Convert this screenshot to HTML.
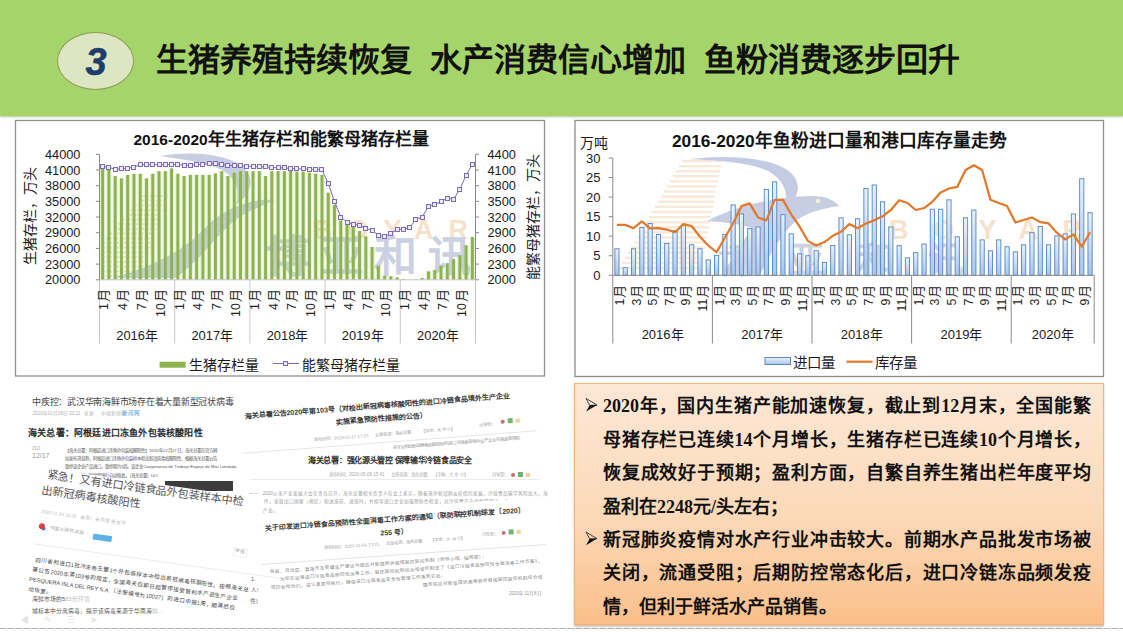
<!DOCTYPE html>
<html lang="zh-CN"><head><meta charset="utf-8"><style>
html,body{margin:0;padding:0;}
body{width:1123px;height:632px;position:relative;overflow:hidden;background:#fff;font-family:'Liberation Sans',sans-serif;}
.hdr{position:absolute;left:0;top:0;width:1123px;height:116px;background:#a4d46a;box-shadow:0 1px 2px rgba(110,160,70,0.55);}
.oval{position:absolute;left:57px;top:32px;width:75px;height:56px;border-radius:50%;background:#dde6c2;border:1px solid #8e9c54;}
.num{position:absolute;left:85.5px;top:40.5px;font-size:38px;font-weight:bold;font-style:italic;color:#1f3d6b;-webkit-text-stroke:0.5px #1f3d6b;}
.title{position:absolute;left:156px;top:44px;font-size:32px;font-weight:bold;color:#111;white-space:pre;line-height:1;}
svg{position:absolute;left:0;top:0;}
svg text{font-family:'Liberation Sans',sans-serif;}
.obox{position:absolute;left:574px;top:382.5px;width:528px;height:240px;border:1px solid #f2b27a;background:linear-gradient(#fde8d6,#fcd9b8 55%,#fbbf8a);box-shadow:0 2px 2px rgba(120,80,40,0.35);}
.ln{position:absolute;left:28px;width:488px;height:34px;font-family:'Liberation Serif',serif;font-weight:bold;font-size:18px;color:#111;white-space:nowrap;line-height:34px;text-align:justify;text-align-last:justify;}
.bul{position:absolute;left:11px;font-size:15px;color:#111;line-height:34px;}
.dash{position:absolute;left:0;top:628px;width:1123px;height:1px;background:repeating-linear-gradient(90deg,#b4b4b4 0,#b4b4b4 6px,#e2e2e2 6px,#e2e2e2 8px);}
</style></head><body>
<div class="hdr"></div>
<div class="oval"></div>
<div class="num">3</div>
<div class="title">生猪养殖持续恢复  水产消费信心增加  鱼粉消费逐步回升</div>
<svg width="1123" height="632" viewBox="0 0 1123 632">
<defs><linearGradient id="bg" x1="0" y1="0" x2="0" y2="1"><stop offset="0" stop-color="#e9f1fb"/><stop offset="1" stop-color="#a9c6ec"/></linearGradient></defs>
<rect x="15.5" y="120.5" width="529" height="255.5" fill="#fff" stroke="#8f8f8f" stroke-width="1.3"/>
<g opacity="0.9">
<line x1="143" y1="196" x2="168" y2="196" stroke="#f4dfc6" stroke-width="2.2" stroke-dasharray="2 1.5"/>
<line x1="138.9" y1="200.7" x2="166.4" y2="200.7" stroke="#f4dfc6" stroke-width="2.2" stroke-dasharray="2 1.5"/>
<line x1="134.8" y1="205.4" x2="164.8" y2="205.4" stroke="#f4dfc6" stroke-width="2.2" stroke-dasharray="2 1.5"/>
<line x1="130.7" y1="210.1" x2="163.2" y2="210.1" stroke="#f4dfc6" stroke-width="2.2" stroke-dasharray="2 1.5"/>
<line x1="126.6" y1="214.8" x2="161.6" y2="214.8" stroke="#f4dfc6" stroke-width="2.2" stroke-dasharray="2 1.5"/>
<line x1="122.5" y1="219.5" x2="160" y2="219.5" stroke="#f4dfc6" stroke-width="2.2" stroke-dasharray="2 1.5"/>
<line x1="118.4" y1="224.2" x2="158.4" y2="224.2" stroke="#f4dfc6" stroke-width="2.2" stroke-dasharray="2 1.5"/>
<line x1="114.3" y1="228.9" x2="156.8" y2="228.9" stroke="#f4dfc6" stroke-width="2.2" stroke-dasharray="2 1.5"/>
<line x1="110.2" y1="233.6" x2="155.2" y2="233.6" stroke="#f4dfc6" stroke-width="2.2" stroke-dasharray="2 1.5"/>
<line x1="106.1" y1="238.3" x2="153.6" y2="238.3" stroke="#f4dfc6" stroke-width="2.2" stroke-dasharray="2 1.5"/>
<line x1="103" y1="243" x2="152" y2="243" stroke="#f4dfc6" stroke-width="2.2" stroke-dasharray="2 1.5"/>
<line x1="103" y1="247.7" x2="150.4" y2="247.7" stroke="#f4dfc6" stroke-width="2.2" stroke-dasharray="2 1.5"/>
<line x1="103" y1="252.4" x2="148.8" y2="252.4" stroke="#f4dfc6" stroke-width="2.2" stroke-dasharray="2 1.5"/>
<line x1="103" y1="257.1" x2="147.2" y2="257.1" stroke="#f4dfc6" stroke-width="2.2" stroke-dasharray="2 1.5"/>
<line x1="103" y1="261.8" x2="145.6" y2="261.8" stroke="#f4dfc6" stroke-width="2.2" stroke-dasharray="2 1.5"/>
<line x1="103" y1="266.5" x2="144" y2="266.5" stroke="#f4dfc6" stroke-width="2.2" stroke-dasharray="2 1.5"/>
<line x1="103" y1="271.2" x2="142.4" y2="271.2" stroke="#f4dfc6" stroke-width="2.2" stroke-dasharray="2 1.5"/>
<line x1="103" y1="275.9" x2="140.8" y2="275.9" stroke="#f4dfc6" stroke-width="2.2" stroke-dasharray="2 1.5"/>
<path d="M160,156 C195,150 230,155 244,168 C256,180 250,195 236,205 C240,190 236,178 222,170 C205,162 185,160 160,156 Z" fill="#c3c9de"/>
<path d="M112,278 C150,268 185,250 205,228 C220,212 245,198 275,200 C262,206 250,210 238,218 C215,235 200,262 175,278 Z" fill="#c3c9de"/>
<text x="313" y="238.5" font-size="27" font-weight="bold" fill="#f6dfc6" letter-spacing="15">BOYAR</text>
<text x="266" y="272" font-size="43" font-weight="bold" fill="#c6cce0" letter-spacing="11">博亚和讯</text>
</g>
<rect x="99.93" y="168.42" width="5.4" height="111.38" fill="#9fcf6a" fill-opacity="0.28"/>
<rect x="101.18" y="168.42" width="2.9" height="111.38" fill="#8db24e"/>
<rect x="106.2" y="169.46" width="5.4" height="110.34" fill="#9fcf6a" fill-opacity="0.28"/>
<rect x="107.45" y="169.46" width="2.9" height="110.34" fill="#8db24e"/>
<rect x="112.47" y="176" width="5.4" height="103.8" fill="#9fcf6a" fill-opacity="0.28"/>
<rect x="113.72" y="176" width="2.9" height="103.8" fill="#8db24e"/>
<rect x="118.73" y="178.35" width="5.4" height="101.45" fill="#9fcf6a" fill-opacity="0.28"/>
<rect x="119.98" y="178.35" width="2.9" height="101.45" fill="#8db24e"/>
<rect x="125" y="174.9" width="5.4" height="104.9" fill="#9fcf6a" fill-opacity="0.28"/>
<rect x="126.25" y="174.9" width="2.9" height="104.9" fill="#8db24e"/>
<rect x="131.27" y="173.8" width="5.4" height="106" fill="#9fcf6a" fill-opacity="0.28"/>
<rect x="132.52" y="173.8" width="2.9" height="106" fill="#8db24e"/>
<rect x="137.53" y="173.8" width="5.4" height="106" fill="#9fcf6a" fill-opacity="0.28"/>
<rect x="138.78" y="173.8" width="2.9" height="106" fill="#8db24e"/>
<rect x="143.8" y="178.35" width="5.4" height="101.45" fill="#9fcf6a" fill-opacity="0.28"/>
<rect x="145.05" y="178.35" width="2.9" height="101.45" fill="#8db24e"/>
<rect x="150.07" y="173.8" width="5.4" height="106" fill="#9fcf6a" fill-opacity="0.28"/>
<rect x="151.32" y="173.8" width="2.9" height="106" fill="#8db24e"/>
<rect x="156.33" y="171.19" width="5.4" height="108.61" fill="#9fcf6a" fill-opacity="0.28"/>
<rect x="157.58" y="171.19" width="2.9" height="108.61" fill="#8db24e"/>
<rect x="162.6" y="171.19" width="5.4" height="108.61" fill="#9fcf6a" fill-opacity="0.28"/>
<rect x="163.85" y="171.19" width="2.9" height="108.61" fill="#8db24e"/>
<rect x="168.87" y="168.42" width="5.4" height="111.38" fill="#9fcf6a" fill-opacity="0.28"/>
<rect x="170.12" y="168.42" width="2.9" height="111.38" fill="#8db24e"/>
<rect x="175.13" y="173.8" width="5.4" height="106" fill="#9fcf6a" fill-opacity="0.28"/>
<rect x="176.38" y="173.8" width="2.9" height="106" fill="#8db24e"/>
<rect x="181.4" y="176" width="5.4" height="103.8" fill="#9fcf6a" fill-opacity="0.28"/>
<rect x="182.65" y="176" width="2.9" height="103.8" fill="#8db24e"/>
<rect x="187.67" y="174.9" width="5.4" height="104.9" fill="#9fcf6a" fill-opacity="0.28"/>
<rect x="188.92" y="174.9" width="2.9" height="104.9" fill="#8db24e"/>
<rect x="193.93" y="174.9" width="5.4" height="104.9" fill="#9fcf6a" fill-opacity="0.28"/>
<rect x="195.18" y="174.9" width="2.9" height="104.9" fill="#8db24e"/>
<rect x="200.2" y="174.9" width="5.4" height="104.9" fill="#9fcf6a" fill-opacity="0.28"/>
<rect x="201.45" y="174.9" width="2.9" height="104.9" fill="#8db24e"/>
<rect x="206.47" y="174.9" width="5.4" height="104.9" fill="#9fcf6a" fill-opacity="0.28"/>
<rect x="207.72" y="174.9" width="2.9" height="104.9" fill="#8db24e"/>
<rect x="212.73" y="173.39" width="5.4" height="106.41" fill="#9fcf6a" fill-opacity="0.28"/>
<rect x="213.98" y="173.39" width="2.9" height="106.41" fill="#8db24e"/>
<rect x="219" y="171.19" width="5.4" height="108.61" fill="#9fcf6a" fill-opacity="0.28"/>
<rect x="220.25" y="171.19" width="2.9" height="108.61" fill="#8db24e"/>
<rect x="225.27" y="176" width="5.4" height="103.8" fill="#9fcf6a" fill-opacity="0.28"/>
<rect x="226.52" y="176" width="2.9" height="103.8" fill="#8db24e"/>
<rect x="231.53" y="172.71" width="5.4" height="107.09" fill="#9fcf6a" fill-opacity="0.28"/>
<rect x="232.78" y="172.71" width="2.9" height="107.09" fill="#8db24e"/>
<rect x="237.8" y="171.19" width="5.4" height="108.61" fill="#9fcf6a" fill-opacity="0.28"/>
<rect x="239.05" y="171.19" width="2.9" height="108.61" fill="#8db24e"/>
<rect x="244.07" y="171.19" width="5.4" height="108.61" fill="#9fcf6a" fill-opacity="0.28"/>
<rect x="245.32" y="171.19" width="2.9" height="108.61" fill="#8db24e"/>
<rect x="250.33" y="171.19" width="5.4" height="108.61" fill="#9fcf6a" fill-opacity="0.28"/>
<rect x="251.58" y="171.19" width="2.9" height="108.61" fill="#8db24e"/>
<rect x="256.6" y="171.19" width="5.4" height="108.61" fill="#9fcf6a" fill-opacity="0.28"/>
<rect x="257.85" y="171.19" width="2.9" height="108.61" fill="#8db24e"/>
<rect x="262.87" y="176" width="5.4" height="103.8" fill="#9fcf6a" fill-opacity="0.28"/>
<rect x="264.12" y="176" width="2.9" height="103.8" fill="#8db24e"/>
<rect x="269.13" y="171.19" width="5.4" height="108.61" fill="#9fcf6a" fill-opacity="0.28"/>
<rect x="270.38" y="171.19" width="2.9" height="108.61" fill="#8db24e"/>
<rect x="275.4" y="171.19" width="5.4" height="108.61" fill="#9fcf6a" fill-opacity="0.28"/>
<rect x="276.65" y="171.19" width="2.9" height="108.61" fill="#8db24e"/>
<rect x="281.67" y="171.19" width="5.4" height="108.61" fill="#9fcf6a" fill-opacity="0.28"/>
<rect x="282.92" y="171.19" width="2.9" height="108.61" fill="#8db24e"/>
<rect x="287.93" y="170.51" width="5.4" height="109.29" fill="#9fcf6a" fill-opacity="0.28"/>
<rect x="289.18" y="170.51" width="2.9" height="109.29" fill="#8db24e"/>
<rect x="294.2" y="171.61" width="5.4" height="108.19" fill="#9fcf6a" fill-opacity="0.28"/>
<rect x="295.45" y="171.61" width="2.9" height="108.19" fill="#8db24e"/>
<rect x="300.47" y="171.61" width="5.4" height="108.19" fill="#9fcf6a" fill-opacity="0.28"/>
<rect x="301.72" y="171.61" width="2.9" height="108.19" fill="#8db24e"/>
<rect x="306.73" y="172.71" width="5.4" height="107.09" fill="#9fcf6a" fill-opacity="0.28"/>
<rect x="307.98" y="172.71" width="2.9" height="107.09" fill="#8db24e"/>
<rect x="313" y="173.8" width="5.4" height="106" fill="#9fcf6a" fill-opacity="0.28"/>
<rect x="314.25" y="173.8" width="2.9" height="106" fill="#8db24e"/>
<rect x="319.27" y="174.9" width="5.4" height="104.9" fill="#9fcf6a" fill-opacity="0.28"/>
<rect x="320.52" y="174.9" width="2.9" height="104.9" fill="#8db24e"/>
<rect x="325.53" y="192.68" width="5.4" height="87.12" fill="#9fcf6a" fill-opacity="0.28"/>
<rect x="326.78" y="192.68" width="2.9" height="87.12" fill="#8db24e"/>
<rect x="331.8" y="204.87" width="5.4" height="74.93" fill="#9fcf6a" fill-opacity="0.28"/>
<rect x="333.05" y="204.87" width="2.9" height="74.93" fill="#8db24e"/>
<rect x="338.07" y="220.4" width="5.4" height="59.4" fill="#9fcf6a" fill-opacity="0.28"/>
<rect x="339.32" y="220.4" width="2.9" height="59.4" fill="#8db24e"/>
<rect x="344.33" y="224.79" width="5.4" height="55.01" fill="#9fcf6a" fill-opacity="0.28"/>
<rect x="345.58" y="224.79" width="2.9" height="55.01" fill="#8db24e"/>
<rect x="350.6" y="226.99" width="5.4" height="52.81" fill="#9fcf6a" fill-opacity="0.28"/>
<rect x="351.85" y="226.99" width="2.9" height="52.81" fill="#8db24e"/>
<rect x="356.87" y="231.01" width="5.4" height="48.79" fill="#9fcf6a" fill-opacity="0.28"/>
<rect x="358.12" y="231.01" width="2.9" height="48.79" fill="#8db24e"/>
<rect x="363.13" y="236.4" width="5.4" height="43.4" fill="#9fcf6a" fill-opacity="0.28"/>
<rect x="364.38" y="236.4" width="2.9" height="43.4" fill="#8db24e"/>
<rect x="369.4" y="247.01" width="5.4" height="32.79" fill="#9fcf6a" fill-opacity="0.28"/>
<rect x="370.65" y="247.01" width="2.9" height="32.79" fill="#8db24e"/>
<rect x="375.67" y="265.79" width="5.4" height="14.01" fill="#9fcf6a" fill-opacity="0.28"/>
<rect x="376.92" y="265.79" width="2.9" height="14.01" fill="#8db24e"/>
<rect x="381.93" y="275.77" width="5.4" height="4.03" fill="#9fcf6a" fill-opacity="0.28"/>
<rect x="383.18" y="275.77" width="2.9" height="4.03" fill="#8db24e"/>
<rect x="388.2" y="276.3" width="5.4" height="3.5" fill="#9fcf6a" fill-opacity="0.28"/>
<rect x="389.45" y="276.3" width="2.9" height="3.5" fill="#8db24e"/>
<rect x="394.47" y="277.39" width="5.4" height="2.41" fill="#9fcf6a" fill-opacity="0.28"/>
<rect x="395.72" y="277.39" width="2.9" height="2.41" fill="#8db24e"/>
<rect x="400.73" y="279.02" width="5.4" height="0.78" fill="#9fcf6a" fill-opacity="0.28"/>
<rect x="401.98" y="279.02" width="2.9" height="0.78" fill="#8db24e"/>
<rect x="413.27" y="279.28" width="5.4" height="0.52" fill="#9fcf6a" fill-opacity="0.28"/>
<rect x="414.52" y="279.28" width="2.9" height="0.52" fill="#8db24e"/>
<rect x="419.53" y="278.02" width="5.4" height="1.78" fill="#9fcf6a" fill-opacity="0.28"/>
<rect x="420.78" y="278.02" width="2.9" height="1.78" fill="#8db24e"/>
<rect x="425.8" y="271.43" width="5.4" height="8.37" fill="#9fcf6a" fill-opacity="0.28"/>
<rect x="427.05" y="271.43" width="2.9" height="8.37" fill="#8db24e"/>
<rect x="432.07" y="270.28" width="5.4" height="9.52" fill="#9fcf6a" fill-opacity="0.28"/>
<rect x="433.32" y="270.28" width="2.9" height="9.52" fill="#8db24e"/>
<rect x="438.33" y="265.79" width="5.4" height="14.01" fill="#9fcf6a" fill-opacity="0.28"/>
<rect x="439.58" y="265.79" width="2.9" height="14.01" fill="#8db24e"/>
<rect x="444.6" y="263.17" width="5.4" height="16.63" fill="#9fcf6a" fill-opacity="0.28"/>
<rect x="445.85" y="263.17" width="2.9" height="16.63" fill="#8db24e"/>
<rect x="450.87" y="259.2" width="5.4" height="20.6" fill="#9fcf6a" fill-opacity="0.28"/>
<rect x="452.12" y="259.2" width="2.9" height="20.6" fill="#8db24e"/>
<rect x="457.13" y="255.22" width="5.4" height="24.58" fill="#9fcf6a" fill-opacity="0.28"/>
<rect x="458.38" y="255.22" width="2.9" height="24.58" fill="#8db24e"/>
<rect x="463.4" y="245.18" width="5.4" height="34.62" fill="#9fcf6a" fill-opacity="0.28"/>
<rect x="464.65" y="245.18" width="2.9" height="34.62" fill="#8db24e"/>
<rect x="469.67" y="237.03" width="5.4" height="42.77" fill="#9fcf6a" fill-opacity="0.28"/>
<rect x="470.92" y="237.03" width="2.9" height="42.77" fill="#8db24e"/>
<line x1="99.5" y1="154.3" x2="99.5" y2="279.8" stroke="#8a8a8a" stroke-width="1"/>
<line x1="475.5" y1="154.3" x2="475.5" y2="279.8" stroke="#8a8a8a" stroke-width="1"/>
<line x1="96.0" y1="154.3" x2="99.5" y2="154.3" stroke="#8a8a8a" stroke-width="1"/>
<line x1="475.5" y1="154.3" x2="479.0" y2="154.3" stroke="#8a8a8a" stroke-width="1"/>
<text x="80.5" y="158.9" text-anchor="end" font-size="12.8" fill="#1a1a1a">44000</text>
<text x="487.5" y="158.9" text-anchor="start" font-size="12.8" fill="#1a1a1a">4400</text>
<line x1="96.0" y1="169.99" x2="99.5" y2="169.99" stroke="#8a8a8a" stroke-width="1"/>
<line x1="475.5" y1="169.99" x2="479.0" y2="169.99" stroke="#8a8a8a" stroke-width="1"/>
<text x="80.5" y="174.59" text-anchor="end" font-size="12.8" fill="#1a1a1a">41000</text>
<text x="487.5" y="174.59" text-anchor="start" font-size="12.8" fill="#1a1a1a">4100</text>
<line x1="96.0" y1="185.68" x2="99.5" y2="185.68" stroke="#8a8a8a" stroke-width="1"/>
<line x1="475.5" y1="185.68" x2="479.0" y2="185.68" stroke="#8a8a8a" stroke-width="1"/>
<text x="80.5" y="190.28" text-anchor="end" font-size="12.8" fill="#1a1a1a">38000</text>
<text x="487.5" y="190.28" text-anchor="start" font-size="12.8" fill="#1a1a1a">3800</text>
<line x1="96.0" y1="201.36" x2="99.5" y2="201.36" stroke="#8a8a8a" stroke-width="1"/>
<line x1="475.5" y1="201.36" x2="479.0" y2="201.36" stroke="#8a8a8a" stroke-width="1"/>
<text x="80.5" y="205.96" text-anchor="end" font-size="12.8" fill="#1a1a1a">35000</text>
<text x="487.5" y="205.96" text-anchor="start" font-size="12.8" fill="#1a1a1a">3500</text>
<line x1="96.0" y1="217.05" x2="99.5" y2="217.05" stroke="#8a8a8a" stroke-width="1"/>
<line x1="475.5" y1="217.05" x2="479.0" y2="217.05" stroke="#8a8a8a" stroke-width="1"/>
<text x="80.5" y="221.65" text-anchor="end" font-size="12.8" fill="#1a1a1a">32000</text>
<text x="487.5" y="221.65" text-anchor="start" font-size="12.8" fill="#1a1a1a">3200</text>
<line x1="96.0" y1="232.74" x2="99.5" y2="232.74" stroke="#8a8a8a" stroke-width="1"/>
<line x1="475.5" y1="232.74" x2="479.0" y2="232.74" stroke="#8a8a8a" stroke-width="1"/>
<text x="80.5" y="237.34" text-anchor="end" font-size="12.8" fill="#1a1a1a">29000</text>
<text x="487.5" y="237.34" text-anchor="start" font-size="12.8" fill="#1a1a1a">2900</text>
<line x1="96.0" y1="248.43" x2="99.5" y2="248.43" stroke="#8a8a8a" stroke-width="1"/>
<line x1="475.5" y1="248.43" x2="479.0" y2="248.43" stroke="#8a8a8a" stroke-width="1"/>
<text x="80.5" y="253.03" text-anchor="end" font-size="12.8" fill="#1a1a1a">26000</text>
<text x="487.5" y="253.03" text-anchor="start" font-size="12.8" fill="#1a1a1a">2600</text>
<line x1="96.0" y1="264.11" x2="99.5" y2="264.11" stroke="#8a8a8a" stroke-width="1"/>
<line x1="475.5" y1="264.11" x2="479.0" y2="264.11" stroke="#8a8a8a" stroke-width="1"/>
<text x="80.5" y="268.71" text-anchor="end" font-size="12.8" fill="#1a1a1a">23000</text>
<text x="487.5" y="268.71" text-anchor="start" font-size="12.8" fill="#1a1a1a">2300</text>
<line x1="96.0" y1="279.8" x2="99.5" y2="279.8" stroke="#8a8a8a" stroke-width="1"/>
<line x1="475.5" y1="279.8" x2="479.0" y2="279.8" stroke="#8a8a8a" stroke-width="1"/>
<text x="80.5" y="284.4" text-anchor="end" font-size="12.8" fill="#1a1a1a">20000</text>
<text x="487.5" y="284.4" text-anchor="start" font-size="12.8" fill="#1a1a1a">2000</text>
<line x1="99.5" y1="279.8" x2="475.5" y2="279.8" stroke="#c8c8c8" stroke-width="1"/>
<line x1="99.5" y1="279.8" x2="99.5" y2="343.5" stroke="#c8c8c8" stroke-width="1"/>
<line x1="174.7" y1="279.8" x2="174.7" y2="343.5" stroke="#c8c8c8" stroke-width="1"/>
<line x1="249.9" y1="279.8" x2="249.9" y2="343.5" stroke="#c8c8c8" stroke-width="1"/>
<line x1="325.1" y1="279.8" x2="325.1" y2="343.5" stroke="#c8c8c8" stroke-width="1"/>
<line x1="400.3" y1="279.8" x2="400.3" y2="343.5" stroke="#c8c8c8" stroke-width="1"/>
<line x1="475.5" y1="279.8" x2="475.5" y2="343.5" stroke="#c8c8c8" stroke-width="1"/>
<text transform="translate(108.43,289) rotate(-90)" text-anchor="end" font-size="12.3" fill="#222">1<tspan dx="1.2" font-size="13">月</tspan></text>
<text transform="translate(127.23,289) rotate(-90)" text-anchor="end" font-size="12.3" fill="#222">4<tspan dx="1.2" font-size="13">月</tspan></text>
<text transform="translate(146.03,289) rotate(-90)" text-anchor="end" font-size="12.3" fill="#222">7<tspan dx="1.2" font-size="13">月</tspan></text>
<text transform="translate(164.83,289) rotate(-90)" text-anchor="end" font-size="12.3" fill="#222">10<tspan dx="1.2" font-size="13">月</tspan></text>
<text x="137.1" y="339.5" text-anchor="middle" font-size="12.9" fill="#1a1a1a">2016年</text>
<text transform="translate(183.63,289) rotate(-90)" text-anchor="end" font-size="12.3" fill="#222">1<tspan dx="1.2" font-size="13">月</tspan></text>
<text transform="translate(202.43,289) rotate(-90)" text-anchor="end" font-size="12.3" fill="#222">4<tspan dx="1.2" font-size="13">月</tspan></text>
<text transform="translate(221.23,289) rotate(-90)" text-anchor="end" font-size="12.3" fill="#222">7<tspan dx="1.2" font-size="13">月</tspan></text>
<text transform="translate(240.03,289) rotate(-90)" text-anchor="end" font-size="12.3" fill="#222">10<tspan dx="1.2" font-size="13">月</tspan></text>
<text x="212.3" y="339.5" text-anchor="middle" font-size="12.9" fill="#1a1a1a">2017年</text>
<text transform="translate(258.83,289) rotate(-90)" text-anchor="end" font-size="12.3" fill="#222">1<tspan dx="1.2" font-size="13">月</tspan></text>
<text transform="translate(277.63,289) rotate(-90)" text-anchor="end" font-size="12.3" fill="#222">4<tspan dx="1.2" font-size="13">月</tspan></text>
<text transform="translate(296.43,289) rotate(-90)" text-anchor="end" font-size="12.3" fill="#222">7<tspan dx="1.2" font-size="13">月</tspan></text>
<text transform="translate(315.23,289) rotate(-90)" text-anchor="end" font-size="12.3" fill="#222">10<tspan dx="1.2" font-size="13">月</tspan></text>
<text x="287.5" y="339.5" text-anchor="middle" font-size="12.9" fill="#1a1a1a">2018年</text>
<text transform="translate(334.03,289) rotate(-90)" text-anchor="end" font-size="12.3" fill="#222">1<tspan dx="1.2" font-size="13">月</tspan></text>
<text transform="translate(352.83,289) rotate(-90)" text-anchor="end" font-size="12.3" fill="#222">4<tspan dx="1.2" font-size="13">月</tspan></text>
<text transform="translate(371.63,289) rotate(-90)" text-anchor="end" font-size="12.3" fill="#222">7<tspan dx="1.2" font-size="13">月</tspan></text>
<text transform="translate(390.43,289) rotate(-90)" text-anchor="end" font-size="12.3" fill="#222">10<tspan dx="1.2" font-size="13">月</tspan></text>
<text x="362.7" y="339.5" text-anchor="middle" font-size="12.9" fill="#1a1a1a">2019年</text>
<text transform="translate(409.23,289) rotate(-90)" text-anchor="end" font-size="12.3" fill="#222">1<tspan dx="1.2" font-size="13">月</tspan></text>
<text transform="translate(428.03,289) rotate(-90)" text-anchor="end" font-size="12.3" fill="#222">4<tspan dx="1.2" font-size="13">月</tspan></text>
<text transform="translate(446.83,289) rotate(-90)" text-anchor="end" font-size="12.3" fill="#222">7<tspan dx="1.2" font-size="13">月</tspan></text>
<text transform="translate(465.63,289) rotate(-90)" text-anchor="end" font-size="12.3" fill="#222">10<tspan dx="1.2" font-size="13">月</tspan></text>
<text x="437.9" y="339.5" text-anchor="middle" font-size="12.9" fill="#1a1a1a">2020年</text>
<polyline points="102.63,166.48 108.9,167.22 115.17,169.41 121.43,168.89 127.7,168.11 133.97,167.22 140.23,164.5 146.5,164.5 152.77,164.5 159.03,164.5 165.3,164.5 171.57,164.5 177.83,164.5 184.1,165.28 190.37,165.28 196.63,164.76 202.9,164.24 209.17,163.71 215.43,163.71 221.7,164.76 227.97,165.28 234.23,165.8 240.5,165.8 246.77,166.33 253.03,166.33 259.3,166.85 265.57,166.85 271.83,167.37 278.1,167.9 284.37,167.9 290.63,168.42 296.9,168.94 303.17,168.94 309.43,169.46 315.7,169.46 321.97,169.99 328.23,183.11 334.5,201.52 340.77,217.05 347.03,222.23 353.3,224.21 359.57,225.31 365.83,228.4 372.1,230.38 378.37,235.51 384.63,236.4 390.9,233.21 397.17,229.29 403.43,229.29 409.7,227.51 415.97,219.3 422.23,217.1 428.5,206.02 434.77,204.4 441.03,201.52 447.3,198.23 453.57,199.32 459.83,189.28 466.1,175.37 472.37,164.29" fill="none" stroke="#7a6db4" stroke-width="1"/>
<rect x="100.5" y="164.5" width="4" height="4" fill="#efeafa" stroke="#7b6bb8" stroke-width="1"/>
<rect x="106.5" y="165.5" width="4" height="4" fill="#efeafa" stroke="#7b6bb8" stroke-width="1"/>
<rect x="113.5" y="167.5" width="4" height="4" fill="#efeafa" stroke="#7b6bb8" stroke-width="1"/>
<rect x="119.5" y="166.5" width="4" height="4" fill="#efeafa" stroke="#7b6bb8" stroke-width="1"/>
<rect x="125.5" y="166.5" width="4" height="4" fill="#efeafa" stroke="#7b6bb8" stroke-width="1"/>
<rect x="131.5" y="165.5" width="4" height="4" fill="#efeafa" stroke="#7b6bb8" stroke-width="1"/>
<rect x="138.5" y="162.5" width="4" height="4" fill="#efeafa" stroke="#7b6bb8" stroke-width="1"/>
<rect x="144.5" y="162.5" width="4" height="4" fill="#efeafa" stroke="#7b6bb8" stroke-width="1"/>
<rect x="150.5" y="162.5" width="4" height="4" fill="#efeafa" stroke="#7b6bb8" stroke-width="1"/>
<rect x="157.5" y="162.5" width="4" height="4" fill="#efeafa" stroke="#7b6bb8" stroke-width="1"/>
<rect x="163.5" y="162.5" width="4" height="4" fill="#efeafa" stroke="#7b6bb8" stroke-width="1"/>
<rect x="169.5" y="162.5" width="4" height="4" fill="#efeafa" stroke="#7b6bb8" stroke-width="1"/>
<rect x="175.5" y="162.5" width="4" height="4" fill="#efeafa" stroke="#7b6bb8" stroke-width="1"/>
<rect x="182.5" y="163.5" width="4" height="4" fill="#efeafa" stroke="#7b6bb8" stroke-width="1"/>
<rect x="188.5" y="163.5" width="4" height="4" fill="#efeafa" stroke="#7b6bb8" stroke-width="1"/>
<rect x="194.5" y="162.5" width="4" height="4" fill="#efeafa" stroke="#7b6bb8" stroke-width="1"/>
<rect x="200.5" y="162.5" width="4" height="4" fill="#efeafa" stroke="#7b6bb8" stroke-width="1"/>
<rect x="207.5" y="161.5" width="4" height="4" fill="#efeafa" stroke="#7b6bb8" stroke-width="1"/>
<rect x="213.5" y="161.5" width="4" height="4" fill="#efeafa" stroke="#7b6bb8" stroke-width="1"/>
<rect x="219.5" y="162.5" width="4" height="4" fill="#efeafa" stroke="#7b6bb8" stroke-width="1"/>
<rect x="225.5" y="163.5" width="4" height="4" fill="#efeafa" stroke="#7b6bb8" stroke-width="1"/>
<rect x="232.5" y="163.5" width="4" height="4" fill="#efeafa" stroke="#7b6bb8" stroke-width="1"/>
<rect x="238.5" y="163.5" width="4" height="4" fill="#efeafa" stroke="#7b6bb8" stroke-width="1"/>
<rect x="244.5" y="164.5" width="4" height="4" fill="#efeafa" stroke="#7b6bb8" stroke-width="1"/>
<rect x="251.5" y="164.5" width="4" height="4" fill="#efeafa" stroke="#7b6bb8" stroke-width="1"/>
<rect x="257.5" y="164.5" width="4" height="4" fill="#efeafa" stroke="#7b6bb8" stroke-width="1"/>
<rect x="263.5" y="164.5" width="4" height="4" fill="#efeafa" stroke="#7b6bb8" stroke-width="1"/>
<rect x="269.5" y="165.5" width="4" height="4" fill="#efeafa" stroke="#7b6bb8" stroke-width="1"/>
<rect x="276.5" y="165.5" width="4" height="4" fill="#efeafa" stroke="#7b6bb8" stroke-width="1"/>
<rect x="282.5" y="165.5" width="4" height="4" fill="#efeafa" stroke="#7b6bb8" stroke-width="1"/>
<rect x="288.5" y="166.5" width="4" height="4" fill="#efeafa" stroke="#7b6bb8" stroke-width="1"/>
<rect x="294.5" y="166.5" width="4" height="4" fill="#efeafa" stroke="#7b6bb8" stroke-width="1"/>
<rect x="301.5" y="166.5" width="4" height="4" fill="#efeafa" stroke="#7b6bb8" stroke-width="1"/>
<rect x="307.5" y="167.5" width="4" height="4" fill="#efeafa" stroke="#7b6bb8" stroke-width="1"/>
<rect x="313.5" y="167.5" width="4" height="4" fill="#efeafa" stroke="#7b6bb8" stroke-width="1"/>
<rect x="319.5" y="167.5" width="4" height="4" fill="#efeafa" stroke="#7b6bb8" stroke-width="1"/>
<rect x="326.5" y="181.5" width="4" height="4" fill="#efeafa" stroke="#7b6bb8" stroke-width="1"/>
<rect x="332.5" y="199.5" width="4" height="4" fill="#efeafa" stroke="#7b6bb8" stroke-width="1"/>
<rect x="338.5" y="215.5" width="4" height="4" fill="#efeafa" stroke="#7b6bb8" stroke-width="1"/>
<rect x="345.5" y="220.5" width="4" height="4" fill="#efeafa" stroke="#7b6bb8" stroke-width="1"/>
<rect x="351.5" y="222.5" width="4" height="4" fill="#efeafa" stroke="#7b6bb8" stroke-width="1"/>
<rect x="357.5" y="223.5" width="4" height="4" fill="#efeafa" stroke="#7b6bb8" stroke-width="1"/>
<rect x="363.5" y="226.5" width="4" height="4" fill="#efeafa" stroke="#7b6bb8" stroke-width="1"/>
<rect x="370.5" y="228.5" width="4" height="4" fill="#efeafa" stroke="#7b6bb8" stroke-width="1"/>
<rect x="376.5" y="233.5" width="4" height="4" fill="#efeafa" stroke="#7b6bb8" stroke-width="1"/>
<rect x="382.5" y="234.5" width="4" height="4" fill="#efeafa" stroke="#7b6bb8" stroke-width="1"/>
<rect x="388.5" y="231.5" width="4" height="4" fill="#efeafa" stroke="#7b6bb8" stroke-width="1"/>
<rect x="395.5" y="227.5" width="4" height="4" fill="#efeafa" stroke="#7b6bb8" stroke-width="1"/>
<rect x="401.5" y="227.5" width="4" height="4" fill="#efeafa" stroke="#7b6bb8" stroke-width="1"/>
<rect x="407.5" y="225.5" width="4" height="4" fill="#efeafa" stroke="#7b6bb8" stroke-width="1"/>
<rect x="413.5" y="217.5" width="4" height="4" fill="#efeafa" stroke="#7b6bb8" stroke-width="1"/>
<rect x="420.5" y="215.5" width="4" height="4" fill="#efeafa" stroke="#7b6bb8" stroke-width="1"/>
<rect x="426.5" y="204.5" width="4" height="4" fill="#efeafa" stroke="#7b6bb8" stroke-width="1"/>
<rect x="432.5" y="202.5" width="4" height="4" fill="#efeafa" stroke="#7b6bb8" stroke-width="1"/>
<rect x="439.5" y="199.5" width="4" height="4" fill="#efeafa" stroke="#7b6bb8" stroke-width="1"/>
<rect x="445.5" y="196.5" width="4" height="4" fill="#efeafa" stroke="#7b6bb8" stroke-width="1"/>
<rect x="451.5" y="197.5" width="4" height="4" fill="#efeafa" stroke="#7b6bb8" stroke-width="1"/>
<rect x="457.5" y="187.5" width="4" height="4" fill="#efeafa" stroke="#7b6bb8" stroke-width="1"/>
<rect x="464.5" y="173.5" width="4" height="4" fill="#efeafa" stroke="#7b6bb8" stroke-width="1"/>
<rect x="470.5" y="162.5" width="4" height="4" fill="#efeafa" stroke="#7b6bb8" stroke-width="1"/>
<text x="133.5" y="145" font-size="15.5" font-weight="bold" fill="#111">2016-2020<tspan font-size="17">年生猪存栏和能繁母猪存栏量</tspan></text>
<text transform="translate(35,216) rotate(-90)" text-anchor="middle" font-size="14" fill="#1a1a1a">生猪存栏，万头</text>
<text transform="translate(538,216.5) rotate(-90)" text-anchor="middle" font-size="14" fill="#1a1a1a">能繁母猪存栏，万头</text>
<rect x="159.6" y="361.7" width="26" height="6" fill="#8db24e"/>
<text x="188.5" y="369.5" font-size="14" fill="#1a1a1a">生猪存栏量</text>
<line x1="273" y1="363.5" x2="299" y2="363.5" stroke="#7a6db4" stroke-width="1"/>
<rect x="283.5" y="361.5" width="4" height="4" fill="#efeafa" stroke="#7b6bb8" stroke-width="1"/>
<text x="302" y="369.5" font-size="14" fill="#1a1a1a">能繁母猪存栏量</text>
<rect x="575" y="120.5" width="528.5" height="256" fill="#fff" stroke="#8f8f8f" stroke-width="1.3"/>
<g opacity="0.9">
<line x1="682" y1="161" x2="722" y2="161" stroke="#f8e8d6" stroke-width="2.4"/>
<line x1="679" y1="166.1" x2="721" y2="166.1" stroke="#f8e8d6" stroke-width="2.4"/>
<line x1="676" y1="171.2" x2="720" y2="171.2" stroke="#f8e8d6" stroke-width="2.4"/>
<line x1="673" y1="176.3" x2="719" y2="176.3" stroke="#f8e8d6" stroke-width="2.4"/>
<line x1="670" y1="181.4" x2="718" y2="181.4" stroke="#f8e8d6" stroke-width="2.4"/>
<line x1="667" y1="186.5" x2="717" y2="186.5" stroke="#f8e8d6" stroke-width="2.4"/>
<line x1="664" y1="191.6" x2="716" y2="191.6" stroke="#f8e8d6" stroke-width="2.4"/>
<line x1="661" y1="196.7" x2="715" y2="196.7" stroke="#f8e8d6" stroke-width="2.4"/>
<line x1="658" y1="201.8" x2="714" y2="201.8" stroke="#f8e8d6" stroke-width="2.4"/>
<line x1="655" y1="206.9" x2="713" y2="206.9" stroke="#f8e8d6" stroke-width="2.4"/>
<line x1="652" y1="212" x2="712" y2="212" stroke="#f8e8d6" stroke-width="2.4"/>
<line x1="649" y1="217.1" x2="711" y2="217.1" stroke="#f8e8d6" stroke-width="2.4"/>
<line x1="646" y1="222.2" x2="710" y2="222.2" stroke="#f8e8d6" stroke-width="2.4"/>
<line x1="643" y1="227.3" x2="709" y2="227.3" stroke="#f8e8d6" stroke-width="2.4"/>
<line x1="640" y1="232.4" x2="708" y2="232.4" stroke="#f8e8d6" stroke-width="2.4"/>
<line x1="637" y1="237.5" x2="707" y2="237.5" stroke="#f8e8d6" stroke-width="2.4"/>
<line x1="634" y1="242.6" x2="706" y2="242.6" stroke="#f8e8d6" stroke-width="2.4"/>
<line x1="631" y1="247.7" x2="705" y2="247.7" stroke="#f8e8d6" stroke-width="2.4"/>
<line x1="628" y1="252.8" x2="704" y2="252.8" stroke="#f8e8d6" stroke-width="2.4"/>
<line x1="625" y1="257.9" x2="703" y2="257.9" stroke="#f8e8d6" stroke-width="2.4"/>
<line x1="622" y1="263" x2="702" y2="263" stroke="#f8e8d6" stroke-width="2.4"/>
<line x1="619" y1="268.1" x2="701" y2="268.1" stroke="#f8e8d6" stroke-width="2.4"/>
<path d="M691,159 C730,154 772,158 790,172 C802,182 800,198 786,207 C788,192 784,180 768,171 C748,162 720,161 691,159 Z" fill="#bfc6df"/>
<path d="M707,221 C730,208 770,197 812,196 C826,196 834,200 839,206 C825,208 808,212 797,220 C780,235 768,258 760,275 L722,275 C735,255 745,238 752,228 C740,224 722,222 707,221 Z" fill="#c2c8df"/>
<circle cx="818" cy="201" r="2.2" fill="#eef2c0"/>
<text x="889" y="238.5" font-size="27" font-weight="bold" fill="#f6dfc6" letter-spacing="24.5">BOYAR</text>
<text x="718" y="273" font-size="36" font-weight="bold" fill="#c9cfe2" letter-spacing="34">博亚和讯</text>
</g>
<rect x="614.85" y="248.79" width="4.2" height="26.51" fill="url(#bg)" stroke="#4f86c6" stroke-width="0.9"/>
<rect x="623.15" y="267.68" width="4.2" height="7.62" fill="url(#bg)" stroke="#4f86c6" stroke-width="0.9"/>
<rect x="631.45" y="248.79" width="4.2" height="26.51" fill="url(#bg)" stroke="#4f86c6" stroke-width="0.9"/>
<rect x="639.75" y="227.6" width="4.2" height="47.7" fill="url(#bg)" stroke="#4f86c6" stroke-width="0.9"/>
<rect x="648.05" y="223.45" width="4.2" height="51.85" fill="url(#bg)" stroke="#4f86c6" stroke-width="0.9"/>
<rect x="656.35" y="234.36" width="4.2" height="40.94" fill="url(#bg)" stroke="#4f86c6" stroke-width="0.9"/>
<rect x="664.65" y="243.39" width="4.2" height="31.91" fill="url(#bg)" stroke="#4f86c6" stroke-width="0.9"/>
<rect x="672.95" y="230.73" width="4.2" height="44.57" fill="url(#bg)" stroke="#4f86c6" stroke-width="0.9"/>
<rect x="681.25" y="225.64" width="4.2" height="49.66" fill="url(#bg)" stroke="#4f86c6" stroke-width="0.9"/>
<rect x="689.55" y="244.8" width="4.2" height="30.5" fill="url(#bg)" stroke="#4f86c6" stroke-width="0.9"/>
<rect x="697.85" y="248.79" width="4.2" height="26.51" fill="url(#bg)" stroke="#4f86c6" stroke-width="0.9"/>
<rect x="706.15" y="259.86" width="4.2" height="15.44" fill="url(#bg)" stroke="#4f86c6" stroke-width="0.9"/>
<rect x="714.45" y="255.36" width="4.2" height="19.94" fill="url(#bg)" stroke="#4f86c6" stroke-width="0.9"/>
<rect x="722.75" y="234.36" width="4.2" height="40.94" fill="url(#bg)" stroke="#4f86c6" stroke-width="0.9"/>
<rect x="731.05" y="204.92" width="4.2" height="70.38" fill="url(#bg)" stroke="#4f86c6" stroke-width="0.9"/>
<rect x="739.35" y="213.91" width="4.2" height="61.39" fill="url(#bg)" stroke="#4f86c6" stroke-width="0.9"/>
<rect x="747.65" y="228.58" width="4.2" height="46.72" fill="url(#bg)" stroke="#4f86c6" stroke-width="0.9"/>
<rect x="755.95" y="226.97" width="4.2" height="48.33" fill="url(#bg)" stroke="#4f86c6" stroke-width="0.9"/>
<rect x="764.25" y="189.44" width="4.2" height="85.86" fill="url(#bg)" stroke="#4f86c6" stroke-width="0.9"/>
<rect x="772.55" y="181.85" width="4.2" height="93.45" fill="url(#bg)" stroke="#4f86c6" stroke-width="0.9"/>
<rect x="780.85" y="214.69" width="4.2" height="60.61" fill="url(#bg)" stroke="#4f86c6" stroke-width="0.9"/>
<rect x="789.15" y="233.85" width="4.2" height="41.45" fill="url(#bg)" stroke="#4f86c6" stroke-width="0.9"/>
<rect x="797.45" y="253.8" width="4.2" height="21.5" fill="url(#bg)" stroke="#4f86c6" stroke-width="0.9"/>
<rect x="805.75" y="255.75" width="4.2" height="19.55" fill="url(#bg)" stroke="#4f86c6" stroke-width="0.9"/>
<rect x="814.05" y="250.67" width="4.2" height="24.63" fill="url(#bg)" stroke="#4f86c6" stroke-width="0.9"/>
<rect x="822.35" y="262.51" width="4.2" height="12.79" fill="url(#bg)" stroke="#4f86c6" stroke-width="0.9"/>
<rect x="830.65" y="245.47" width="4.2" height="29.83" fill="url(#bg)" stroke="#4f86c6" stroke-width="0.9"/>
<rect x="838.95" y="217.82" width="4.2" height="57.48" fill="url(#bg)" stroke="#4f86c6" stroke-width="0.9"/>
<rect x="847.25" y="234.75" width="4.2" height="40.55" fill="url(#bg)" stroke="#4f86c6" stroke-width="0.9"/>
<rect x="855.55" y="218.76" width="4.2" height="56.54" fill="url(#bg)" stroke="#4f86c6" stroke-width="0.9"/>
<rect x="863.85" y="188.5" width="4.2" height="86.8" fill="url(#bg)" stroke="#4f86c6" stroke-width="0.9"/>
<rect x="872.15" y="184.98" width="4.2" height="90.32" fill="url(#bg)" stroke="#4f86c6" stroke-width="0.9"/>
<rect x="880.45" y="201.79" width="4.2" height="73.51" fill="url(#bg)" stroke="#4f86c6" stroke-width="0.9"/>
<rect x="888.75" y="226.97" width="4.2" height="48.33" fill="url(#bg)" stroke="#4f86c6" stroke-width="0.9"/>
<rect x="897.05" y="245.66" width="4.2" height="29.64" fill="url(#bg)" stroke="#4f86c6" stroke-width="0.9"/>
<rect x="905.35" y="257.78" width="4.2" height="17.52" fill="url(#bg)" stroke="#4f86c6" stroke-width="0.9"/>
<rect x="913.65" y="252.62" width="4.2" height="22.68" fill="url(#bg)" stroke="#4f86c6" stroke-width="0.9"/>
<rect x="921.95" y="244.02" width="4.2" height="31.28" fill="url(#bg)" stroke="#4f86c6" stroke-width="0.9"/>
<rect x="930.25" y="209.22" width="4.2" height="66.08" fill="url(#bg)" stroke="#4f86c6" stroke-width="0.9"/>
<rect x="938.55" y="209.22" width="4.2" height="66.08" fill="url(#bg)" stroke="#4f86c6" stroke-width="0.9"/>
<rect x="946.85" y="199.84" width="4.2" height="75.46" fill="url(#bg)" stroke="#4f86c6" stroke-width="0.9"/>
<rect x="955.15" y="236.79" width="4.2" height="38.51" fill="url(#bg)" stroke="#4f86c6" stroke-width="0.9"/>
<rect x="963.45" y="217.82" width="4.2" height="57.48" fill="url(#bg)" stroke="#4f86c6" stroke-width="0.9"/>
<rect x="971.75" y="210" width="4.2" height="65.3" fill="url(#bg)" stroke="#4f86c6" stroke-width="0.9"/>
<rect x="980.05" y="239.88" width="4.2" height="35.42" fill="url(#bg)" stroke="#4f86c6" stroke-width="0.9"/>
<rect x="988.35" y="250.78" width="4.2" height="24.52" fill="url(#bg)" stroke="#4f86c6" stroke-width="0.9"/>
<rect x="996.65" y="239.88" width="4.2" height="35.42" fill="url(#bg)" stroke="#4f86c6" stroke-width="0.9"/>
<rect x="1004.95" y="246.76" width="4.2" height="28.54" fill="url(#bg)" stroke="#4f86c6" stroke-width="0.9"/>
<rect x="1013.25" y="251.84" width="4.2" height="23.46" fill="url(#bg)" stroke="#4f86c6" stroke-width="0.9"/>
<rect x="1021.55" y="244.8" width="4.2" height="30.5" fill="url(#bg)" stroke="#4f86c6" stroke-width="0.9"/>
<rect x="1029.85" y="232.68" width="4.2" height="42.62" fill="url(#bg)" stroke="#4f86c6" stroke-width="0.9"/>
<rect x="1038.15" y="226.43" width="4.2" height="48.88" fill="url(#bg)" stroke="#4f86c6" stroke-width="0.9"/>
<rect x="1046.45" y="244.8" width="4.2" height="30.5" fill="url(#bg)" stroke="#4f86c6" stroke-width="0.9"/>
<rect x="1054.75" y="235.81" width="4.2" height="39.49" fill="url(#bg)" stroke="#4f86c6" stroke-width="0.9"/>
<rect x="1063.05" y="233.85" width="4.2" height="41.45" fill="url(#bg)" stroke="#4f86c6" stroke-width="0.9"/>
<rect x="1071.35" y="213.91" width="4.2" height="61.39" fill="url(#bg)" stroke="#4f86c6" stroke-width="0.9"/>
<rect x="1079.65" y="178.72" width="4.2" height="96.58" fill="url(#bg)" stroke="#4f86c6" stroke-width="0.9"/>
<rect x="1087.95" y="212.74" width="4.2" height="62.56" fill="url(#bg)" stroke="#4f86c6" stroke-width="0.9"/>
<line x1="612.8" y1="158" x2="612.8" y2="275.3" stroke="#8a8a8a" stroke-width="1"/>
<line x1="608.8" y1="158" x2="612.8" y2="158" stroke="#8a8a8a" stroke-width="1"/>
<text x="600.5" y="162.7" text-anchor="end" font-size="13" fill="#1a1a1a">30</text>
<line x1="608.8" y1="177.55" x2="612.8" y2="177.55" stroke="#8a8a8a" stroke-width="1"/>
<text x="600.5" y="182.25" text-anchor="end" font-size="13" fill="#1a1a1a">25</text>
<line x1="608.8" y1="197.1" x2="612.8" y2="197.1" stroke="#8a8a8a" stroke-width="1"/>
<text x="600.5" y="201.8" text-anchor="end" font-size="13" fill="#1a1a1a">20</text>
<line x1="608.8" y1="216.65" x2="612.8" y2="216.65" stroke="#8a8a8a" stroke-width="1"/>
<text x="600.5" y="221.35" text-anchor="end" font-size="13" fill="#1a1a1a">15</text>
<line x1="608.8" y1="236.2" x2="612.8" y2="236.2" stroke="#8a8a8a" stroke-width="1"/>
<text x="600.5" y="240.9" text-anchor="end" font-size="13" fill="#1a1a1a">10</text>
<line x1="608.8" y1="255.75" x2="612.8" y2="255.75" stroke="#8a8a8a" stroke-width="1"/>
<text x="600.5" y="260.45" text-anchor="end" font-size="13" fill="#1a1a1a">5</text>
<line x1="608.8" y1="275.3" x2="612.8" y2="275.3" stroke="#8a8a8a" stroke-width="1"/>
<text x="600.5" y="280" text-anchor="end" font-size="13" fill="#1a1a1a">0</text>
<line x1="612.8" y1="275.3" x2="1094.2" y2="275.3" stroke="#8a8a8a" stroke-width="1"/>
<line x1="612.8" y1="275.3" x2="612.8" y2="343.5" stroke="#8a8a8a" stroke-width="1"/>
<line x1="712.4" y1="275.3" x2="712.4" y2="343.5" stroke="#8a8a8a" stroke-width="1"/>
<line x1="812" y1="275.3" x2="812" y2="343.5" stroke="#8a8a8a" stroke-width="1"/>
<line x1="911.6" y1="275.3" x2="911.6" y2="343.5" stroke="#8a8a8a" stroke-width="1"/>
<line x1="1011.2" y1="275.3" x2="1011.2" y2="343.5" stroke="#8a8a8a" stroke-width="1"/>
<line x1="1094.2" y1="275.3" x2="1094.2" y2="343.5" stroke="#8a8a8a" stroke-width="1"/>
<text transform="translate(623.95,284.5) rotate(-90)" text-anchor="end" font-size="12.3" fill="#222">1<tspan dx="1.2" font-size="13">月</tspan></text>
<text transform="translate(640.55,284.5) rotate(-90)" text-anchor="end" font-size="12.3" fill="#222">3<tspan dx="1.2" font-size="13">月</tspan></text>
<text transform="translate(657.15,284.5) rotate(-90)" text-anchor="end" font-size="12.3" fill="#222">5<tspan dx="1.2" font-size="13">月</tspan></text>
<text transform="translate(673.75,284.5) rotate(-90)" text-anchor="end" font-size="12.3" fill="#222">7<tspan dx="1.2" font-size="13">月</tspan></text>
<text transform="translate(690.35,284.5) rotate(-90)" text-anchor="end" font-size="12.3" fill="#222">9<tspan dx="1.2" font-size="13">月</tspan></text>
<text transform="translate(706.95,284.5) rotate(-90)" text-anchor="end" font-size="12.3" fill="#222">11<tspan dx="1.2" font-size="13">月</tspan></text>
<text transform="translate(723.55,284.5) rotate(-90)" text-anchor="end" font-size="12.3" fill="#222">1<tspan dx="1.2" font-size="13">月</tspan></text>
<text transform="translate(740.15,284.5) rotate(-90)" text-anchor="end" font-size="12.3" fill="#222">3<tspan dx="1.2" font-size="13">月</tspan></text>
<text transform="translate(756.75,284.5) rotate(-90)" text-anchor="end" font-size="12.3" fill="#222">5<tspan dx="1.2" font-size="13">月</tspan></text>
<text transform="translate(773.35,284.5) rotate(-90)" text-anchor="end" font-size="12.3" fill="#222">7<tspan dx="1.2" font-size="13">月</tspan></text>
<text transform="translate(789.95,284.5) rotate(-90)" text-anchor="end" font-size="12.3" fill="#222">9<tspan dx="1.2" font-size="13">月</tspan></text>
<text transform="translate(806.55,284.5) rotate(-90)" text-anchor="end" font-size="12.3" fill="#222">11<tspan dx="1.2" font-size="13">月</tspan></text>
<text transform="translate(823.15,284.5) rotate(-90)" text-anchor="end" font-size="12.3" fill="#222">1<tspan dx="1.2" font-size="13">月</tspan></text>
<text transform="translate(839.75,284.5) rotate(-90)" text-anchor="end" font-size="12.3" fill="#222">3<tspan dx="1.2" font-size="13">月</tspan></text>
<text transform="translate(856.35,284.5) rotate(-90)" text-anchor="end" font-size="12.3" fill="#222">5<tspan dx="1.2" font-size="13">月</tspan></text>
<text transform="translate(872.95,284.5) rotate(-90)" text-anchor="end" font-size="12.3" fill="#222">7<tspan dx="1.2" font-size="13">月</tspan></text>
<text transform="translate(889.55,284.5) rotate(-90)" text-anchor="end" font-size="12.3" fill="#222">9<tspan dx="1.2" font-size="13">月</tspan></text>
<text transform="translate(906.15,284.5) rotate(-90)" text-anchor="end" font-size="12.3" fill="#222">11<tspan dx="1.2" font-size="13">月</tspan></text>
<text transform="translate(922.75,284.5) rotate(-90)" text-anchor="end" font-size="12.3" fill="#222">1<tspan dx="1.2" font-size="13">月</tspan></text>
<text transform="translate(939.35,284.5) rotate(-90)" text-anchor="end" font-size="12.3" fill="#222">3<tspan dx="1.2" font-size="13">月</tspan></text>
<text transform="translate(955.95,284.5) rotate(-90)" text-anchor="end" font-size="12.3" fill="#222">5<tspan dx="1.2" font-size="13">月</tspan></text>
<text transform="translate(972.55,284.5) rotate(-90)" text-anchor="end" font-size="12.3" fill="#222">7<tspan dx="1.2" font-size="13">月</tspan></text>
<text transform="translate(989.15,284.5) rotate(-90)" text-anchor="end" font-size="12.3" fill="#222">9<tspan dx="1.2" font-size="13">月</tspan></text>
<text transform="translate(1005.75,284.5) rotate(-90)" text-anchor="end" font-size="12.3" fill="#222">11<tspan dx="1.2" font-size="13">月</tspan></text>
<text transform="translate(1022.35,284.5) rotate(-90)" text-anchor="end" font-size="12.3" fill="#222">1<tspan dx="1.2" font-size="13">月</tspan></text>
<text transform="translate(1038.95,284.5) rotate(-90)" text-anchor="end" font-size="12.3" fill="#222">3<tspan dx="1.2" font-size="13">月</tspan></text>
<text transform="translate(1055.55,284.5) rotate(-90)" text-anchor="end" font-size="12.3" fill="#222">5<tspan dx="1.2" font-size="13">月</tspan></text>
<text transform="translate(1072.15,284.5) rotate(-90)" text-anchor="end" font-size="12.3" fill="#222">7<tspan dx="1.2" font-size="13">月</tspan></text>
<text transform="translate(1088.75,284.5) rotate(-90)" text-anchor="end" font-size="12.3" fill="#222">9<tspan dx="1.2" font-size="13">月</tspan></text>
<text x="662.6" y="338.5" text-anchor="middle" font-size="13" fill="#1a1a1a">2016年</text>
<text x="762.2" y="338.5" text-anchor="middle" font-size="13" fill="#1a1a1a">2017年</text>
<text x="861.8" y="338.5" text-anchor="middle" font-size="13" fill="#1a1a1a">2018年</text>
<text x="961.4" y="338.5" text-anchor="middle" font-size="13" fill="#1a1a1a">2019年</text>
<text x="1052.7" y="338.5" text-anchor="middle" font-size="13" fill="#1a1a1a">2020年</text>
<polyline points="616.95,224.86 625.25,224.86 633.55,228.18 641.85,221.34 650.15,228.38 658.45,228.18 666.75,229.55 675.05,232.29 683.35,224.08 691.65,226.03 699.95,236.79 708.25,245.47 716.55,252.23 724.85,237.76 733.15,223.3 741.45,206.09 749.75,203.36 758.05,217.43 766.35,220.36 774.65,199.84 782.95,199.84 791.25,214.3 799.55,226.43 807.85,240.89 816.15,245.58 824.45,242.06 832.75,235.81 841.05,231.7 849.35,224.08 857.65,228.18 865.95,223.45 874.25,220.36 882.55,216.26 890.85,210 899.15,200.23 907.45,202.97 915.75,210 924.05,208.05 932.35,201.79 940.65,192.41 948.95,188.5 957.25,186.93 965.55,169.93 973.85,165.23 982.15,169.93 990.45,199.84 998.75,202.97 1007.05,206.09 1015.35,222.52 1023.65,219.97 1031.95,217.43 1040.25,222.12 1048.55,223.45 1056.85,232.68 1065.15,239.33 1073.45,234.36 1081.75,246.76 1090.05,232.29" fill="none" stroke="#e2782a" stroke-width="2.2" stroke-linejoin="round"/>
<text x="672" y="147.3" font-size="17.3" font-weight="bold" fill="#111">2016-2020<tspan font-size="17.8">年鱼粉进口量和港口库存量走势</tspan></text>
<text x="580" y="148" font-size="14" fill="#1a1a1a">万吨</text>
<rect x="765" y="357.5" width="25.5" height="7" fill="url(#bg)" stroke="#4a7ebb" stroke-width="0.9"/>
<text x="793" y="368" font-size="14.5" fill="#1a1a1a">进口量</text>
<line x1="846.5" y1="361.7" x2="872.5" y2="361.7" stroke="#e2782a" stroke-width="2.2"/>
<text x="875.3" y="368" font-size="14.5" fill="#1a1a1a">库存量</text>
</svg>
<div class="obox">
<div class="ln" style="top:5.5px">2020年，国内生猪产能加速恢复，截止到12月末，全国能繁</div>
<div class="ln" style="top:39.5px">母猪存栏已连续14个月增长，生猪存栏已连续10个月增长，</div>
<div class="ln" style="top:72.5px">恢复成效好于预期；盈利方面，自繁自养生猪出栏年度平均</div>
<div class="ln" style="top:106px;text-align-last:left">盈利在2248元/头左右；</div>
<div class="ln" style="top:139.5px">新冠肺炎疫情对水产行业冲击较大。前期水产品批发市场被</div>
<div class="ln" style="top:172.5px">关闭，流通受阻；后期防控常态化后，进口冷链冻品频发疫</div>
<div class="ln" style="top:206px;text-align-last:left">情，但利于鲜活水产品销售。</div>
</div>
<div class="col" style="position:absolute;left:0;top:378px;width:568px;height:248px;overflow:hidden;">
<style>
.col div{position:absolute;white-space:nowrap;line-height:1;}
.col .h{color:#3a3a3a;}
.col .t{color:#777;}
</style>
<!-- card A (flat) -->
<div class="h" style="left:32px;top:19.5px;font-size:9px;letter-spacing:-0.25px;color:#444">中疾控：武汉华南海鲜市场存在着大量新型冠状病毒</div>
<div class="t" style="left:32.5px;top:34px;font-size:4.6px;color:#b0b0b0">2020年01月26日 22:11 &nbsp; 来源: &nbsp;&nbsp; 中国新闻网</div>
<div style="left:122px;top:33px;font-size:5.5px;color:#4a9be0">新闻网</div>
<div class="h" style="left:28px;top:50.5px;font-size:9px;letter-spacing:0.2px;font-weight:bold;color:#2a2a2a">海关总署：阿根廷进口冻鱼外包装核酸阳性</div>
<div class="t" style="left:32px;top:68px;font-size:5px;color:#aaa">202</div>
<div class="t" style="left:32px;top:74px;font-size:7px;color:#999">12/17</div>
<div class="t" style="left:65px;top:71px;font-size:4.4px;color:#555">【海关总署：阿根廷进口冻鱼外包装核酸阳性】2020年12月17日，海关总署在官方网</div>
<div class="t" style="left:65px;top:79px;font-size:4.4px;color:#555">站发布消息称，阿根廷进口冻鱼外包装样本检出新冠病毒核酸阳性，根据海关总署公告</div>
<div class="t" style="left:65px;top:87px;font-size:4.4px;color:#555">暂停该企业产品进口，暂停期为1周。该企业Cooperativa de Trabajo Expejo de Mar Limitada</div>
<div class="t" style="left:65px;top:96px;font-size:4.4px;color:#555">的进口申报，暂停期满后自动恢复。（海关总署）UO</div>
<div style="left:165px;top:102.5px;width:68px;height:10px;background:#3c3c3c;"></div>
<!-- card C (rotated) -->
<div style="left:238px;top:18px;width:300px;height:72px;background:#fff;transform-origin:0 0;transform:rotate(-4.4deg);">
  <div style="left:5px;top:18px;font-size:7.1px;font-weight:bold;color:#3a3a3a">海关总署公告2020年第103号（对检出新冠病毒核酸阳性的进口冷链食品境外生产企业</div>
  <div style="left:96px;top:31px;font-size:7.1px;font-weight:bold;color:#3a3a3a">实施紧急预防性措施的公告）</div>
  <div style="left:72px;top:48px;font-size:4.5px;color:#aaa">发布时间：2020-11-17 17:25 &nbsp;&nbsp;&nbsp; 文章来源：海关总署 &nbsp;&nbsp;&nbsp;&nbsp;&nbsp;&nbsp; 【字体：大 中 小】</div>
  <div style="left:238px;top:46px;font-size:4.5px;color:#aaa">分享到：</div>
  <div style="left:260px;top:44px;width:4px;height:4px;background:#c87070;border-radius:2px"></div>
  <div style="left:267px;top:43px;width:5px;height:5px;background:#6fb56f;"></div>
  <div style="left:275px;top:44px;width:4px;height:4px;background:#f2d09a;"></div>
  <div style="left:0;top:57px;width:295px;height:1px;background:#e6e6e6"></div>
  <div style="left:150px;top:62px;font-size:4.5px;color:#999">关于对检出新冠病毒核酸阳性的进口冷链食品境外生产企业实施紧急预防</div>
</div>
<!-- card D (flat) -->
<div style="left:240px;top:76px;width:300px;height:40px;background:#fff;"></div>
<div class="h" style="left:308px;top:79px;font-size:8px;letter-spacing:-0.3px;font-weight:bold;color:#333">海关总署：强化源头管控 保障输华冷链食品安全</div>
<div class="t" style="left:329px;top:95px;font-size:4.5px;color:#aaa">发布时间：2020-05-08 15:41 &nbsp;&nbsp;&nbsp; 文章来源：海关总署 &nbsp;&nbsp;&nbsp; 【字体：大 中 小】</div>
<div style="left:492px;top:95px;font-size:4.5px;color:#aaa">分享到：</div>
<div style="left:511px;top:95px;width:4px;height:4px;background:#c87070;border-radius:2px"></div>
<div style="left:518px;top:94px;width:5px;height:5px;background:#6fb56f;"></div>
<div style="left:526px;top:95px;width:4px;height:4px;background:#f2d09a;"></div>
<div style="left:250px;top:101px;width:290px;height:1px;background:#ececec"></div>
<div class="t" style="left:249px;top:114px;font-size:4.6px;color:#999">—一· &nbsp;2020以来产业发展大会在青岛召开，海关总署相关负责人在会上表示，随着境外新冠肺炎疫情的发展，冷链食品输华风险加大，海</div>
<div class="t" style="left:264px;top:122px;font-size:4.6px;color:#999">件，采取出口国家（地区）和进境前、进境时，并指导进口企业加强预防性检查，对冷链食品安全性管理进一步</div>
<div class="t" style="left:263px;top:131px;font-size:4.6px;color:#999">产业。</div>
<!-- card E (rotated) -->
<div style="left:258px;top:139px;width:285px;height:90px;background:#fff;transform-origin:0 0;transform:rotate(-4deg);">
  <div style="left:6px;top:8px;font-size:7px;font-weight:bold;color:#3a3a3a">关于印发进口冷链食品预防性全面消毒工作方案的通知（联防联控机制综发〔2020〕</div>
  <div style="left:121px;top:21px;font-size:7px;font-weight:bold;color:#3a3a3a">255 号）</div>
  <div style="left:64px;top:34px;font-size:4.5px;color:#aaa">发布时间：2020-11-09 13:21 &nbsp;&nbsp;&nbsp; 文章来源：海关总署 &nbsp;&nbsp;&nbsp;&nbsp;&nbsp; 【字体：大 中 小】</div>
  <div style="left:222px;top:32px;font-size:4.5px;color:#aaa">分享到：</div>
  <div style="left:242px;top:31px;width:4px;height:4px;background:#c87070;border-radius:2px"></div>
  <div style="left:249px;top:30px;width:5px;height:5px;background:#6fb56f;"></div>
  <div style="left:257px;top:31px;width:4px;height:4px;background:#f2d09a;"></div>
  <div style="left:0;top:47px;width:285px;height:1px;background:#e4e4e4"></div>
  <div style="left:8px;top:54px;font-size:4.6px;color:#888">各省、自治区、直辖市及新疆生产建设兵团应对新冠肺炎疫情联防联控机制（领导小组、指挥部）：</div>
  <div style="left:18px;top:62px;font-size:4.6px;color:#888">为切实加强进口冷链食品预防性消毒工作，联防联控机制综合组组织制定了《进口冷链食品预防性全面消毒工作方案》，</div>
  <div style="left:8px;top:70px;font-size:4.6px;color:#888">现印发给你们，请认真贯彻执行，确保进口冷链食品安全性管理工作落到实处。</div>
  <div style="left:160px;top:78px;font-size:4.6px;color:#888">国务院应对新型冠状病毒肺炎疫情联防联控机制综合组</div>
</div>
<div class="t" style="left:509px;top:214px;font-size:4.6px;color:#999">2020年11月8日</div>
<!-- card B (rotated, on top) -->
<div style="left:44px;top:90px;width:206px;height:150px;background:#fff;transform-origin:0 0;transform:rotate(8deg);">
  <div style="left:4px;top:1px;font-size:11.2px;color:#555">紧急！又有进口冷链食品外包装样本中检</div>
  <div style="left:1px;top:17px;font-size:11.2px;color:#555">出新冠病毒核酸阳性</div>
  <div style="left:3px;top:42px;font-size:4.6px;color:#bbb">2020-11-29 15:30 &nbsp; 来源：新京报·新京号</div>
  <div style="left:3px;top:55px;width:6px;height:6px;border-radius:3px;background:#d94040;box-shadow:2px 2px 0 -1px #3a7bd5"></div>
  <div style="left:14px;top:57px;font-size:4.6px;color:#aaa">中国冷链物流网</div>
  <div style="left:58px;top:58px;width:19px;height:6px;background:#5ab4ea;border-radius:1px"></div>
  <div style="left:199px;top:52px;font-size:4.6px;color:#aaa;border:1px solid #eee;padding:1px">举报</div>
  <div style="left:0;top:76px;width:250px;height:1px;background:#ededed"></div>
  <div style="left:4px;top:90px;font-size:5.6px;color:#444">四川省判进口1批冷冻帝王蟹1个外包装样本中检出新冠病毒核酸阳性。按照海关总</div>
  <div style="left:3px;top:100px;font-size:5.6px;color:#444">署公告2020年第103号的规定，全国海关自即日起暂停接受智利水产品生产企业</div>
  <div style="left:1px;top:110px;font-size:5.6px;color:#444">PESQUERA ISLA DEL REY S.A.（注册编号为10027）的进口申报1周，期满后自</div>
  <div style="left:1px;top:120px;font-size:5.6px;color:#444">动恢复。</div>
</div>
<div class="t" style="left:32px;top:219px;font-size:5.8px;color:#555">海鲜市场的5<span style="color:#bbb">85份环境</span></div>
<div class="t" style="left:32px;top:231px;font-size:5.8px;color:#555">城标本中分离病毒，提示该病毒来源于华南海<span style="color:#bbb">鲜...</span></div>
<div style="left:20px;top:238px;font-size:9px;color:#e4e4e4">&#9664; &nbsp;&nbsp;&nbsp;&nbsp; &#9998; &nbsp;&nbsp;&nbsp;&nbsp; &#9776; &nbsp;&nbsp;&nbsp;&nbsp; &#10148;</div>
<div class="t" style="left:251px;top:199px;font-size:5.5px;color:#666">1.</div>
<div class="t" style="left:251px;top:210px;font-size:5.5px;color:#666">人!</div>
<div class="t" style="left:250px;top:221px;font-size:5.5px;color:#666">性)</div>
</div>

<svg width="1123" height="632" style="position:absolute;left:0;top:0">
<path d="M586,398.4 L597,405 L589.7,405.4 Z" fill="none" stroke="#333" stroke-width="0.9" stroke-linejoin="round"/>
<path d="M589.7,405.2 L597.2,405 L586,411.6 Z" fill="#111"/>
<path d="M586,532 L597,538.6 L589.7,539 Z" fill="none" stroke="#333" stroke-width="0.9" stroke-linejoin="round"/>
<path d="M589.7,538.8 L597.2,538.6 L586,545.2 Z" fill="#111"/>
</svg>
<div class="dash"></div>
</body></html>
